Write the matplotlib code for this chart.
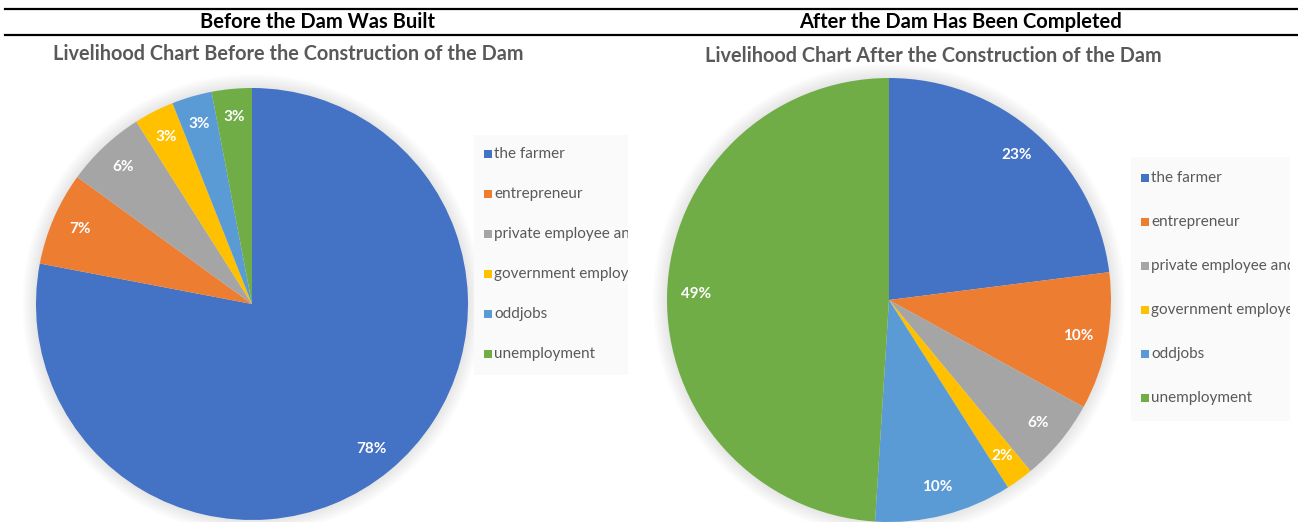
import matplotlib
matplotlib.use("Agg")
import matplotlib.pyplot as plt
from matplotlib.patches import Circle, Rectangle

# Data
categories = ["the farmer", "entrepreneur", "private employee and labourer",
              "government employee", "oddjobs", "unemployment"]
before_values = [78, 7, 6, 3, 3, 3]
after_values = [23, 10, 6, 2, 10, 49]
colors = ["#4472C4", "#ED7D31", "#A5A5A5", "#FFC000", "#5B9BD5", "#70AD47"]

header_left = "Before the Dam Was Built"
header_right = "After the Dam Has Been Completed"
title_left = "Livelihood Chart Before the Construction of the Dam"
title_right = "Livelihood Chart After the Construction of the Dam"

W, H = 1298, 522
plt.rcParams['font.family'] = ['Lato', 'DejaVu Sans']
fig = plt.figure(figsize=(W / 100, H / 100), dpi=100)


def px_axes(x0, y0, w, h):
    # pixel box given from the top-left corner
    return fig.add_axes([x0 / W, (H - y0 - h) / H, w / W, h / H])


# header row with rules
bg = fig.add_axes([0, 0, 1, 1])
bg.set_xlim(0, W)
bg.set_ylim(H, 0)
bg.axis("off")
bg.plot([5, W], [9, 9], color="black", lw=1.6)
bg.plot([5, W], [35, 35], color="black", lw=1.6)
bg.text(317, 22, header_left, ha="center", va="center", fontsize=14.5,
        fontweight="bold", color="black")
bg.text(960, 22, header_right, ha="center", va="center", fontsize=14.5,
        fontweight="bold", color="black")
bg.text(288, 54, title_left, ha="center", va="center", fontsize=14.3,
        fontweight="bold", color="#595959")
bg.text(933, 56, title_right, ha="center", va="center", fontsize=14.3,
        fontweight="bold", color="#595959")


def draw_pie(cx, cy, r, values):
    pad = 1.08
    ax = px_axes(cx - r * pad, cy - r * pad, 2 * r * pad, 2 * r * pad)
    # soft shadow around the pie
    for i in range(8):
        ax.add_patch(Circle((0, 0), 1.0 + 0.008 * (i + 1), color="#000000",
                            alpha=0.012, lw=0, zorder=0))
    ax.pie(values, colors=colors, startangle=90, counterclock=False,
           autopct="%d%%", pctdistance=0.87, radius=1.0,
           wedgeprops=dict(linewidth=0),
           textprops=dict(color="white", fontsize=11, fontweight="bold"))
    ax.set_xlim(-pad, pad)
    ax.set_ylim(-pad, pad)
    ax.set_aspect("equal")
    ax.axis("off")


def draw_legend(x0, y0, w, h, first_row, step):
    ax = px_axes(x0, y0, w, h)
    ax.set_xlim(x0, x0 + w)
    ax.set_ylim(y0 + h, y0)
    ax.axis("off")
    ax.add_patch(Rectangle((x0, y0), w, h, color="#FAFAFA", lw=0, zorder=0))
    for i, (name, c) in enumerate(zip(categories, colors)):
        y = first_row + i * step
        ax.add_patch(Rectangle((x0 + 10, y - 4), 8, 8, color=c, lw=0))
        t = ax.text(x0 + 20, y, name, ha="left", va="center", fontsize=11,
                    color="#595959")
        t.set_clip_on(True)


draw_pie(252, 304, 216, before_values)
draw_pie(889, 300, 222, after_values)
draw_legend(474, 135, 154, 240, 154, 40)
draw_legend(1131, 157, 159, 264, 178, 44)

fig.savefig("out.png", dpi=100)
